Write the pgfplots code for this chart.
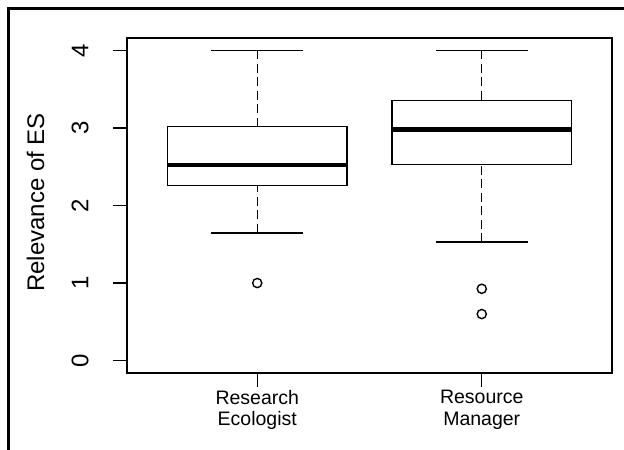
\documentclass[border=0pt]{standalone}
\usepackage{fontspec}
\setmainfont{Liberation Sans}
\usepackage{pgfplots}
\pgfplotsset{compat=1.18}
\usepgfplotslibrary{statistics}
\begin{document}
\begin{tikzpicture}
\useasboundingbox (0,0) rectangle (624bp,450bp);
\draw[line width=2.5bp] (8.5bp,0) -- (8.5bp,441.5bp) -- (624bp,441.5bp);
\begin{axis}[
  at={(127bp,77bp)}, anchor=south west,
  scale only axis, width=485bp, height=335bp,
  xmin=0.42, xmax=2.58, ymin=-0.16, ymax=4.16,
  axis line style={line width=1.4bp},
  xtick={1,2}, xticklabels={Research\\Ecologist,Resource\\Manager},
  ytick={0,1,2,3,4},
  tick pos=left,
  tick align=outside, major tick length=13.5bp,
  tick style={line width=1.4bp, black},
  /pgf/number format/assume math mode=true,
  yticklabel style={font=\fontsize{24bp}{24bp}\selectfont, xshift=-25bp, rotate=90, anchor=base, inner sep=0pt},
  xticklabel style={font=\fontsize{19.5bp}{21.5bp}\selectfont, align=center, anchor=north, inner sep=0pt, yshift=-3.5bp},
  ylabel={Relevance of ES},
  every axis y label/.style={at={(axis description cs:-0.171,0.509)}, rotate=90, anchor=base, font=\fontsize{24bp}{24bp}\selectfont, inner sep=0pt},
  boxplot/draw direction=y,
  boxplot/every box/.style={draw=black, line width=1.4bp},
  boxplot/every median/.style={draw=black, line width=4.3bp},
  boxplot/draw/lower whisker/.code={
    \draw[black, line width=1.4bp, dash pattern=on 9bp off 4.5bp] (boxplot box cs:\pgfplotsboxplotvalue{lower whisker},0.5) -- (boxplot box cs:\pgfplotsboxplotvalue{lower quartile},0.5);
    \draw[black, line width=1.4bp] (boxplot whisker cs:\pgfplotsboxplotvalue{lower whisker},0) -- (boxplot whisker cs:\pgfplotsboxplotvalue{lower whisker},1);
  },
  boxplot/draw/upper whisker/.code={
    \draw[black, line width=1.4bp, dash pattern=on 9bp off 4.5bp] (boxplot box cs:\pgfplotsboxplotvalue{upper whisker},0.5) -- (boxplot box cs:\pgfplotsboxplotvalue{upper quartile},0.5);
    \draw[black, line width=1.4bp] (boxplot whisker cs:\pgfplotsboxplotvalue{upper whisker},0) -- (boxplot whisker cs:\pgfplotsboxplotvalue{upper whisker},1);
  },
]
\addplot[black, line width=1.4bp, mark=o, mark size=4.6bp, mark options={solid, line width=1.4bp},
  boxplot prepared={draw position=1, lower whisker=1.646, lower quartile=2.26, median=2.52, upper quartile=3.02, upper whisker=4, box extend=0.8, whisker extend=0.41}]
  coordinates {(0,1.0)};
\addplot[black, line width=1.4bp, mark=o, mark size=4.6bp, mark options={solid, line width=1.4bp},
  boxplot prepared={draw position=2, lower whisker=1.527, lower quartile=2.53, median=2.98, upper quartile=3.357, upper whisker=4, box extend=0.8, whisker extend=0.41}]
  coordinates {(0,0.926) (0,0.60)};
\end{axis}
\end{tikzpicture}
\end{document}
